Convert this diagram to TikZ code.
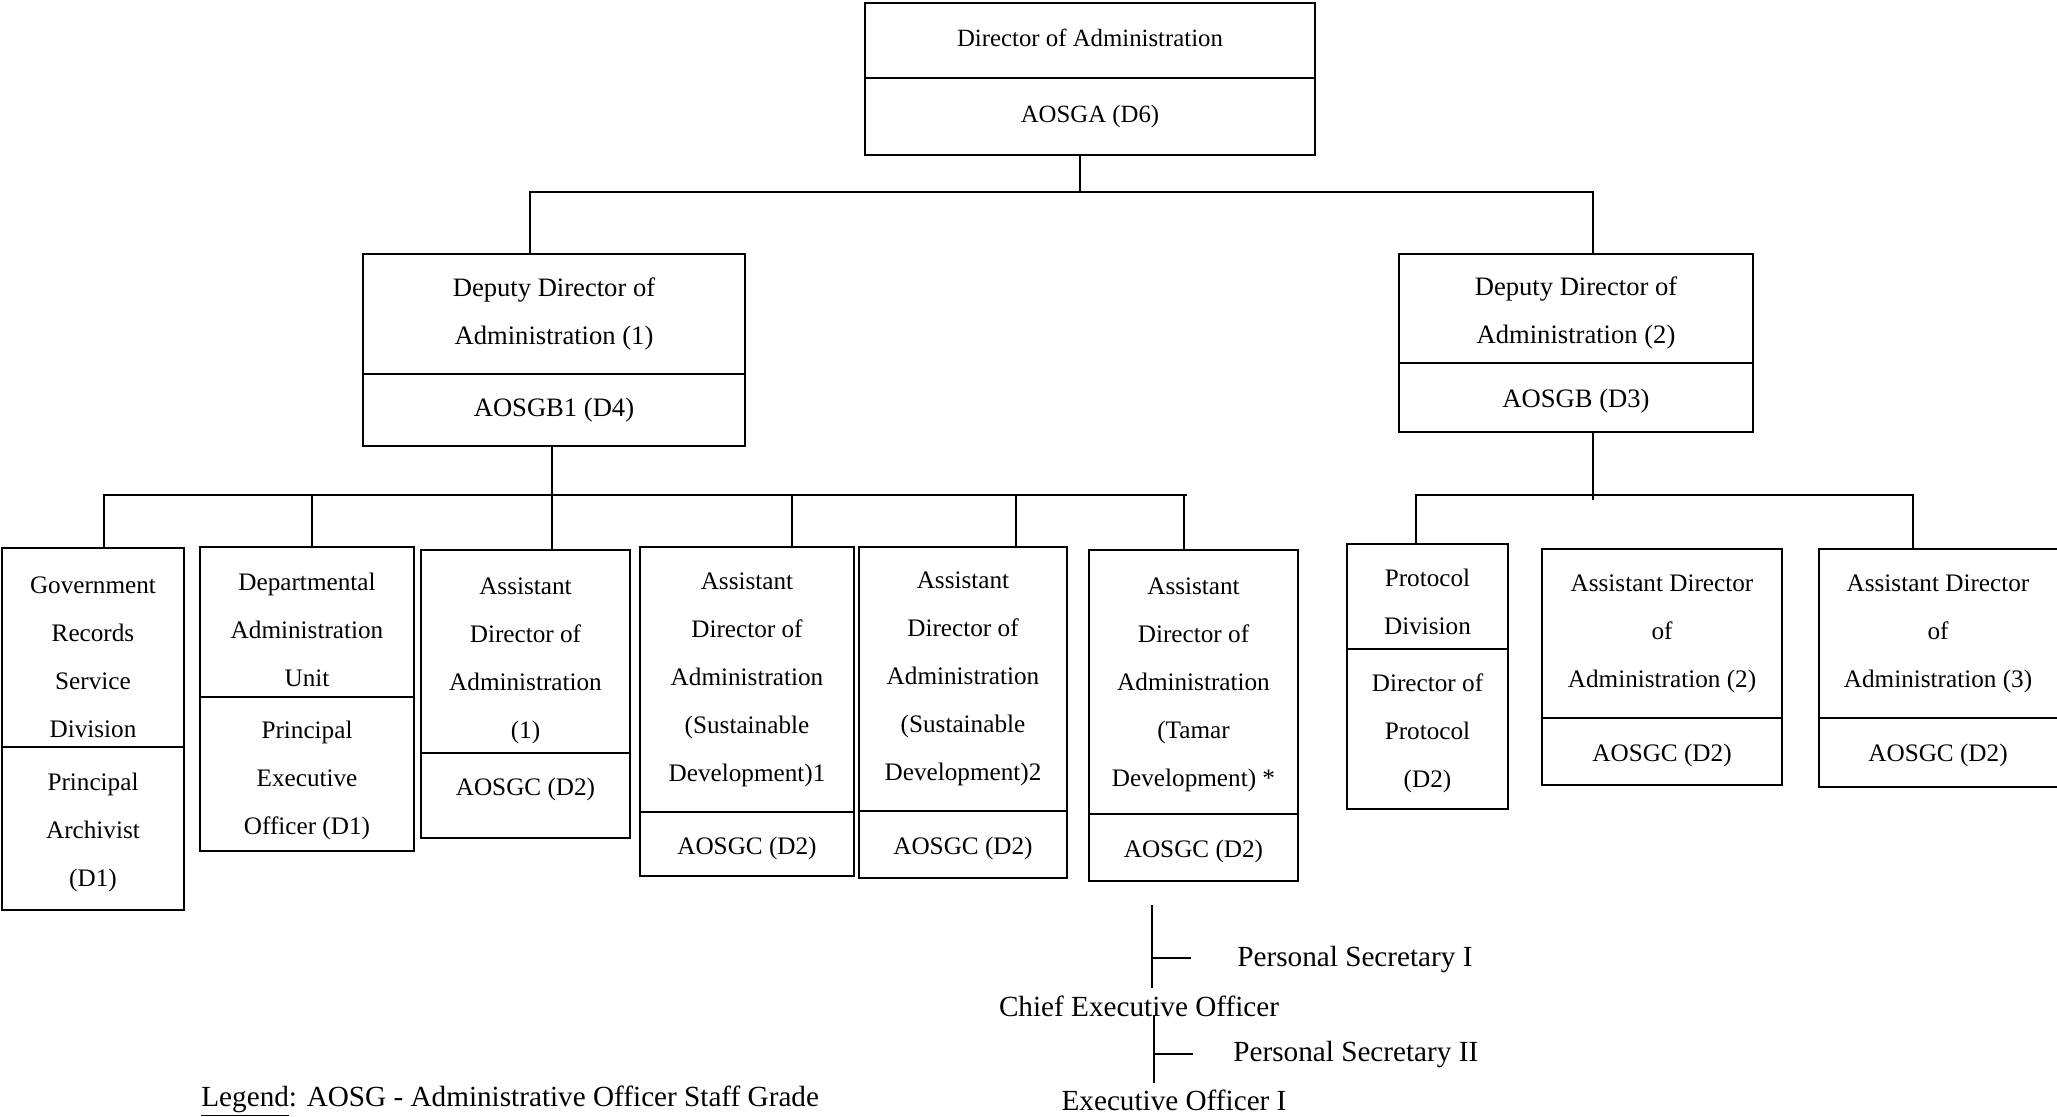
\documentclass[tikz,border=0pt]{standalone}
\usepackage{fontspec}
\setmainfont{Liberation Serif}
\newcommand\fTop{\fontsize{12.4}{24}\selectfont}
\newcommand\fDep{\fontsize{13.3}{24}\selectfont}
\newcommand\fLow{\fontsize{12.6}{24}\selectfont}
\newcommand\fBig{\fontsize{14.6}{18}\selectfont}
\newcommand\dn[1]{\rule{0pt}{#1pt}}
\newcommand\upp[1]{\rule[-#1pt]{0pt}{#1pt}}
\begin{document}
\begin{tikzpicture}[x=0.5pt,y=-0.5pt,
  part/.style n args={2}{draw, line width=1pt, inner sep=0pt, align=center,
    minimum width=#1*0.5pt, minimum height=#2*0.5pt},
  openpart/.style n args={2}{inner sep=0pt, align=center,
    minimum width=#1*0.5pt, minimum height=#2*0.5pt},
  conn/.style={line width=0.9pt},
  thin/.style={line width=0.75pt},
  big/.style={inner sep=0pt, font=\fBig}]
\useasboundingbox (0,0) rectangle (2057,1117);

% top
\node[part={450}{75}, font=\fTop] (top1) at (1090,40.5) {Director of Administration\upp{2.6}};
\node[part={450}{77}, font=\fTop] (top2) at (1090,116.5) {AOSGA (D6)};

% deputies
\node[part={382}{120}, font=\fDep] (dd1a) at (554,314) {Deputy Director of\\Administration (1)};
\node[part={382}{72}, font=\fDep] (dd1b) at (554,410) {AOSGB1 (D4)};
\node[part={354}{109}, font=\fDep] (dd2a) at (1576,308.5) {\dn{13.4}Deputy Director of\\Administration (2)};
\node[part={354}{69}, font=\fDep] (dd2b) at (1576,397.5) {\dn{12.8}AOSGB (D3)};

% lower boxes
\begin{scope}[every node/.append style={font=\fLow}]
\node[part={182}{199}] (grs1) at (93,647.5) {\dn{17.9}Government\\Records\\Service\\Division};
\node[part={182}{163}] (grs2) at (93,828.5) {\dn{12.7}Principal\\Archivist\\(D1)};
\node[part={214}{150}] (dau1) at (307,622) {\dn{16.5}Departmental\\Administration\\Unit};
\node[part={214}{154}] (dau2) at (307,774) {\dn{15.3}Principal\\Executive\\Officer (D1)};
\node[part={209}{203}] (ad1a) at (525.5,651.5) {\dn{17.3}Assistant\\Director of\\Administration\\(1)};
\node[part={209}{85}] (ad1b) at (525.5,795.5) {AOSGC (D2)\upp{9.1}};
\node[part={214}{265}] (sd1a) at (747,679.5) {Assistant\\Director of\\Administration\\(Sustainable\\Development)1};
\node[part={214}{64}] (sd1b) at (747,844) {\dn{12.7}AOSGC (D2)};
\node[part={208}{264}] (sd2a) at (963,679) {Assistant\\Director of\\Administration\\(Sustainable\\Development)2};
\node[part={208}{67}] (sd2b) at (963,844.5) {\dn{12.7}AOSGC (D2)};
\node[part={209}{264}] (tda) at (1193.5,682) {\dn{11.3}Assistant\\Director of\\Administration\\(Tamar\\Development) *};
\node[part={209}{67}] (tdb) at (1193.5,847.5) {\dn{12.7}AOSGC (D2)};
\node[part={161}{105}] (pra) at (1427.5,596.5) {\dn{13.9}Protocol\\Division};
\node[part={161}{160}] (prb) at (1427.5,729) {\dn{12.7}Director of\\Protocol\\(D2)};
\node[part={240}{169}] (ad2a) at (1662,633.5) {Assistant Director\\of\\Administration (2)};
\node[part={240}{67}] (ad2b) at (1662,751.5) {\dn{12.7}AOSGC (D2)};
\node[openpart={238}{169}] (ad3a) at (1938,633.5) {Assistant Director\\of\\Administration (3)};
\node[openpart={238}{69}] (ad3b) at (1938,752.5) {\dn{11.3}AOSGC (D2)};
\end{scope}
\draw[line width=1pt] (ad3a.north east) -- (ad3a.north west) -- (ad3b.south west) -- (ad3b.south east);
\draw[line width=1pt] (ad3a.south west) -- (ad3a.south east);

% first bus
\coordinate (j0) at (1080,192);
\coordinate (b1l) at (530,192);
\coordinate (b1r) at (1593,192);
\draw[conn] (top2.south -| j0) -- (j0);
\draw[conn] (dd1a.north -| b1l) -- (b1l) -- (b1r) -- (dd2a.north -| b1r);

% left bus
\coordinate (j1) at (104,495);
\coordinate (j2) at (312,495);
\coordinate (j3) at (552,495);
\coordinate (j4) at (792,495);
\coordinate (j5) at (1016,495);
\coordinate (j6) at (1184,495);
\coordinate (b2e) at (1187,495);
\draw[conn] (grs1.north -| j1) -- (j1) -- (b2e);
\draw[conn] (j2) -- (dau1.north -| j2);
\draw[conn] (dd1b.south -| j3) -- (ad1a.north -| j3);
\draw[conn] (j4) -- (sd1a.north -| j4);
\draw[conn] (j5) -- (sd2a.north -| j5);
\draw[conn] (j6) -- (tda.north -| j6);

% right bus
\coordinate (k0) at (1593,500);
\coordinate (k1) at (1416,495);
\coordinate (k2) at (1913,495);
\draw[conn] (dd2b.south -| k0) -- (k0);
\draw[conn] (pra.north -| k1) -- (k1) -- (k2) -- (ad3a.north -| k2);

% bottom chain
\node[big, anchor=west] (ps1) at (1237,960) {Personal Secretary I};
\node[big] (ceo) at (1139,1006) {Chief Executive Officer};
\node[big, anchor=west] (ps2) at (1233,1055) {Personal Secretary II};
\node[big] (eo) at (1174,1100) {Executive Officer I};
\coordinate (p1) at (1152,905);
\coordinate (p1e) at (1152,988);
\coordinate (t1) at (1152,958);
\coordinate (t1e) at (1191,958);
\coordinate (p2) at (1154,1015);
\coordinate (p2e) at (1154,1083);
\coordinate (t2) at (1154,1054);
\coordinate (t2e) at (1193,1054);
\draw[thin] (p1) -- (p1e);
\draw[thin] (t1) -- (t1e);
\draw[thin] (p2) -- (p2e);
\draw[thin] (t2) -- (t2e);

% legend
\node[big, anchor=west] (leg) at (201,1101) {\underline{Legend}: AOSG - Administrative Officer Staff Grade};
\end{tikzpicture}
\end{document}
